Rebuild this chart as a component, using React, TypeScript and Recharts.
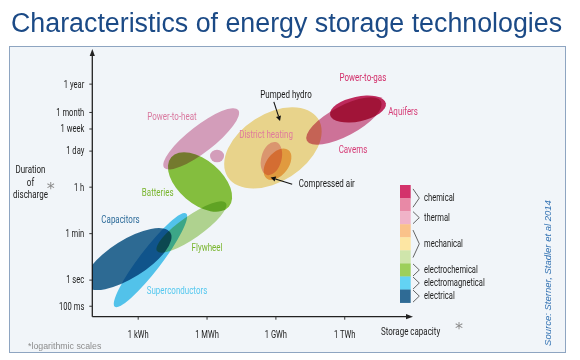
import React from "react";
import { ScatterChart, Scatter, XAxis, YAxis, ReferenceDot } from "recharts";

type Pt = { x: number; y: number };

// x = log10(storage capacity in Wh), y = log10(discharge time in s)
// every area: both ends of its long axis, then one end of its short axis
const powerToHeat: Pt[] = [{ x: 4.13, y: 4.3 }, { x: 7.36, y: 6.51 }, { x: 6.1, y: 5.01 }];
const powerToHeatSmall: Pt[] = [{ x: 6.13, y: 4.75 }, { x: 6.74, y: 4.75 }, { x: 6.43, y: 4.99 }];
const pumpedHydro: Pt[] = [{ x: 6.9, y: 3.95 }, { x: 10.84, y: 6.17 }, { x: 9.67, y: 3.98 }];
const caverns: Pt[] = [{ x: 10.35, y: 5.33 }, { x: 13.58, y: 6.84 }, { x: 12.27, y: 5.58 }];
const aquifers: Pt[] = [{ x: 11.36, y: 6.32 }, { x: 13.79, y: 6.77 }, { x: 12.69, y: 6.08 }];
const districtHeating: Pt[] = [{ x: 9.0, y: 5.28 }, { x: 8.61, y: 4.02 }, { x: 9.23, y: 4.55 }];
const compressedAir: Pt[] = [{ x: 8.6, y: 3.89 }, { x: 9.54, y: 4.98 }, { x: 9.45, y: 4.18 }];
const flywheel: Pt[] = [{ x: 3.82, y: 1.11 }, { x: 6.82, y: 2.95 }, { x: 5.6, y: 1.68 }];
const batteries: Pt[] = [{ x: 4.44, y: 4.7 }, { x: 6.95, y: 2.81 }, { x: 6.31, y: 4.39 }];
const superconductors: Pt[] = [{ x: 1.98, y: -1.02 }, { x: 5.09, y: 2.55 }, { x: 3.91, y: 0.51 }];
const capacitors: Pt[] = [{ x: 0.71, y: -0.21 }, { x: 4.4, y: 1.82 }, { x: 2.12, y: 1.42 }];

const labelNames = ["Power-to-gas", "Aquifers", "Caverns", "Pumped hydro", "District heating", "Compressed air",
  "Power-to-heat", "Batteries", "Capacitors", "Flywheel", "Superconductors"];
const labelX = [12.79, 14.54, 12.36, 9.44, 8.57, 11.22, 4.47, 3.85, 2.23, 6.0, 4.69];
const labelY = [7.77, 6.48, 5.0, 7.12, 5.59, 3.72, 6.28, 3.38, 2.32, 1.25, -0.38];

const pumpedHydroArrow: Pt[] = [{ x: 8.91, y: 6.82 }, { x: 9.18, y: 6.09 }];
const compressedAirArrow: Pt[] = [{ x: 9.71, y: 3.67 }, { x: 8.77, y: 3.93 }];

const capacityTicks = [3, 6, 9, 12];
const capacityNames = ["1 kWh", "1 MWh", "1 GWh", "1 TWh"];
const durationTicks = [-1, 0, 1.778, 3.556, 4.936, 5.782, 6.415, 7.499];
const durationNames = ["100 ms", "1 sec", "1 min", "1 h", "1 day", "1 week", "1 month", "1 year"];

const legendGroups = ["chemical", "thermal", "mechanical", "electrochemical", "electromagnetical", "electrical"];
const legendGroupSize = [2, 1, 3, 1, 1, 1];
const legendColors = ["#d3336b", "#e889a6", "#f0b3c8", "#fac28a", "#fde6a3", "#cfe5ab", "#9dcf5a", "#63d3f3", "#2f6b95"];

const labels = labelNames.map((name, i) => ({ name, x: labelX[i], y: labelY[i] }));

const labelColor: Record<string, string> = {
  "Power-to-gas": "#d22d69",
  Aquifers: "#d63b76",
  Caverns: "#d63b76",
  "Pumped hydro": "#1a1a1a",
  "District heating": "#e07a9c",
  "Compressed air": "#1a1a1a",
  "Power-to-heat": "#d9789f",
  Batteries: "#79b52e",
  Capacitors: "#2e6c9a",
  Flywheel: "#79b52e",
  Superconductors: "#55c8ef",
};

// drawing order and fill of every area
const areas: [Pt[], string][] = [
  [powerToHeat, "#e0a4bf"],
  [powerToHeatSmall, "#e0a4bf"],
  [pumpedHydro, "#f6dc8e"],
  [caverns, "#d9779c"],
  [aquifers, "#c92b5e"],
  [districtHeating, "#f0b5cc"],
  [compressedAir, "#f8ba72"],
  [flywheel, "#b9db93"],
  [batteries, "#8cc63f"],
  [superconductors, "#57caf0"],
  [capacitors, "#2f6e97"],
];

const FONT = "Roboto, 'Liberation Sans', sans-serif";
const SQUEEZE = 0.76;

function Narrow({ x, y, text, size = 10.5, color = "#222", anchor = "middle" }: {
  x: number; y: number; text: string; size?: number; color?: string; anchor?: "start" | "middle" | "end";
}) {
  return (
    <text
      transform={`translate(${x},${y}) scale(${SQUEEZE},1)`}
      fontSize={size}
      fill={color}
      textAnchor={anchor}
      dominantBaseline="central"
      fontFamily={FONT}
    >
      {text}
    </text>
  );
}

const nothing = () => <g />;

const ellipse = (fill: string) => (props: any) => {
  const pts = props.points;
  if (!pts || pts.length < 3) return <g />;
  const [a, b, c] = pts;
  const cx = (a.x + b.x) / 2;
  const cy = (a.y + b.y) / 2;
  const rx = Math.hypot(b.x - a.x, b.y - a.y) / 2;
  const ry = Math.abs((b.x - a.x) * (c.y - a.y) - (b.y - a.y) * (c.x - a.x)) / (2 * rx);
  const ang = (Math.atan2(b.y - a.y, b.x - a.x) * 180) / Math.PI;
  return <ellipse cx={cx} cy={cy} rx={rx} ry={ry} transform={`rotate(${ang} ${cx} ${cy})`} fill={fill} />;
};

const arrow = (props: any) => {
  const pts = props.points;
  if (!pts || pts.length < 2) return <g />;
  const [a, b] = pts;
  const ang = Math.atan2(b.y - a.y, b.x - a.x);
  const bx = b.x - 5 * Math.cos(ang);
  const by = b.y - 5 * Math.sin(ang);
  const px = -Math.sin(ang) * 2.6;
  const py = Math.cos(ang) * 2.6;
  return (
    <g>
      <line x1={a.x} y1={a.y} x2={bx} y2={by} stroke="#111" strokeWidth={1.1} />
      <polygon points={`${b.x},${b.y} ${bx + px},${by + py} ${bx - px},${by - py}`} fill="#111" />
    </g>
  );
};

const LabelShape = (props: any) => (
  <Narrow x={props.cx} y={props.cy} text={props.payload.name} color={labelColor[props.payload.name]} />
);

const XTick = (props: any) => {
  const i = capacityTicks.indexOf(props.payload.value);
  return <Narrow x={props.x} y={props.y + 13} text={capacityNames[i]} size={10} color="#222" />;
};

const YTick = (props: any) => {
  const i = durationTicks.indexOf(props.payload.value);
  return <Narrow x={props.x - 3} y={props.y} text={durationNames[i]} size={10} color="#222" anchor="end" />;
};

const UpHead = (props: any) => (
  <polygon points={`${props.cx},${props.cy - 4} ${props.cx - 2.6},${props.cy + 3} ${props.cx + 2.6},${props.cy + 3}`} fill="#222" />
);
const RightHead = (props: any) => (
  <polygon points={`${props.cx + 4},${props.cy} ${props.cx - 3},${props.cy - 2.6} ${props.cx - 3},${props.cy + 2.6}`} fill="#222" />
);

function LegendBlock() {
  const top = 185;
  const h = 13.07;
  let start = 0;
  return (
    <g>
      {legendColors.map((c, i) => (
        <rect key={c} x={400} y={top + i * h} width={10.7} height={h + 0.3} fill={c} />
      ))}
      {legendGroups.map((g, i) => {
        const y0 = top + start * h;
        const y1 = top + (start + legendGroupSize[i]) * h;
        start += legendGroupSize[i];
        const inset = legendGroupSize[i] > 1 ? (y1 - y0) * 0.15 : 0.5;
        const mid = (y0 + y1) / 2;
        return (
          <g key={g}>
            <polyline points={`413,${y0 + inset} 419.3,${mid} 413,${y1 - inset}`} fill="none" stroke="#555" strokeWidth={0.9} />
            <Narrow x={424} y={mid} text={g} size={10} color="#222" anchor="start" />
          </g>
        );
      })}
    </g>
  );
}

export default function App() {
  return (
    <div style={{ position: "absolute", left: 0, top: 0, width: 580, height: 360, background: "#ffffff", overflow: "hidden" }}>
      <style>{`.blend { mix-blend-mode: multiply; }`}</style>
      <div style={{ position: "absolute", left: 9, top: 46, width: 555, height: 305, background: "#f1f5f9", border: "1.5px solid #8ea5c1" }} />
      <div style={{ position: "absolute", left: 0, top: 0 }}>
        <ScatterChart width={580} height={360} margin={{ top: 53, right: 171, bottom: 42.3, left: 91.3 }}>
          <XAxis
            xAxisId="main"
            type="number"
            dataKey="x"
            domain={[1, 14.8]}
            ticks={capacityTicks}
            interval={0}
            tick={<XTick />}
            tickSize={3}
            tickLine={{ stroke: "#333" }}
            axisLine={{ stroke: "#222", strokeWidth: 1.3 }}
            height={1}
          />
          <XAxis
            xAxisId="clip"
            type="number"
            dataKey="x"
            domain={[1, 14.8]}
            allowDataOverflow
            hide
            orientation="top"
            height={0}
          />
          <YAxis
            type="number"
            dataKey="y"
            domain={[-1.4, 8.69]}
            ticks={durationTicks}
            interval={0}
            tick={<YTick />}
            tickSize={3}
            tickLine={{ stroke: "#333" }}
            axisLine={{ stroke: "#222", strokeWidth: 1.3 }}
            width={1}
          />
          {areas.map(([pts, fill], i) => (
            <Scatter
              key={i}
              xAxisId="clip"
              data={pts}
              line={ellipse(fill)}
              shape={nothing}
              className="blend"
              isAnimationActive={false}
            />
          ))}
          <Scatter xAxisId="main" data={pumpedHydroArrow} line={arrow} shape={nothing} isAnimationActive={false} />
          <Scatter xAxisId="main" data={compressedAirArrow} line={arrow} shape={nothing} isAnimationActive={false} />
          <Scatter xAxisId="main" data={labels} shape={LabelShape} isAnimationActive={false} />
          <ReferenceDot xAxisId="main" x={1} y={8.69} shape={UpHead} />
          <ReferenceDot xAxisId="main" x={14.8} y={-1.4} shape={RightHead} />
        </ScatterChart>
      </div>
      <svg width={580} height={360} style={{ position: "absolute", left: 0, top: 0, pointerEvents: "none" }}>
        <text x={11} y={31.6} fontSize={26.8} fill="#1b4a86" fontFamily="'Liberation Sans', Arial, sans-serif">
          Characteristics of energy storage technologies
        </text>
        <Narrow x={30.5} y={169} text="Duration" />
        <Narrow x={30.5} y={181.7} text="of" />
        <Narrow x={30.5} y={194} text="discharge" />
        <text x={50.7} y={193.5} fontSize={16} fill="#8a8a8a" textAnchor="middle" fontFamily="'DejaVu Sans', sans-serif">*</text>
        <Narrow x={381} y={331} text="Storage capacity" anchor="start" />
        <text x={459} y={333.5} fontSize={16} fill="#8a8a8a" textAnchor="middle" fontFamily="'DejaVu Sans', sans-serif">*</text>
        <text x={28} y={349} fontSize={8.8} fill="#8c8c8c" fontFamily="'Liberation Sans', Arial, sans-serif">
          *logarithmic scales
        </text>
        <text
          transform="translate(551,273) rotate(-90)"
          fontSize={9.5}
          fontStyle="italic"
          fill="#3473b3"
          textAnchor="middle"
          fontFamily="'Liberation Sans', Arial, sans-serif"
        >
          Source: Sterner, Stadler et al 2014
        </text>
        <LegendBlock />
      </svg>
    </div>
  );
}
